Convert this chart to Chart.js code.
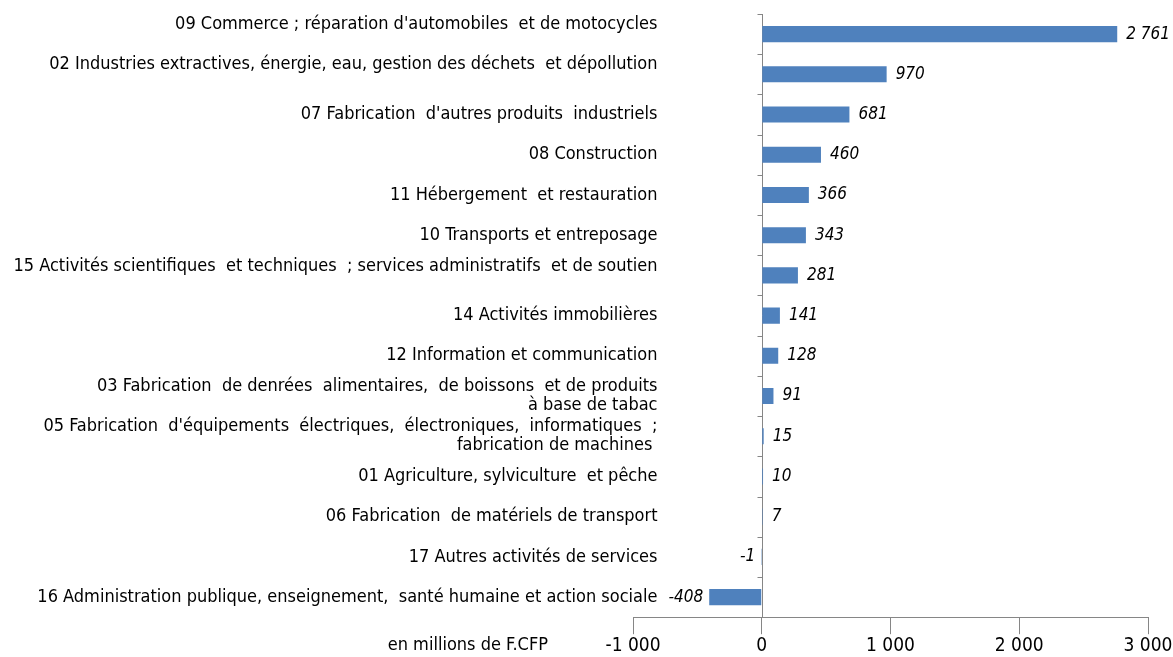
<!DOCTYPE html>
<html>
<head>
<meta charset="utf-8">
<script src="https://cdn.jsdelivr.net/npm/chart.js@4"></script>
<style>
  html, body { margin: 0; padding: 0; background: #fff; }
  #wrap { width: 1173px; height: 657px; }
</style>
</head>
<body>
<div id="wrap"><canvas id="chart1"></canvas></div>
<script>
// data
const categories = [
  ["09 Commerce ; réparation d'automobiles  et de motocycles", ""],
  ["02 Industries extractives, énergie, eau, gestion des déchets  et dépollution", ""],
  "07 Fabrication  d'autres produits  industriels",
  "08 Construction",
  "11 Hébergement  et restauration",
  "10 Transports et entreposage",
  ["15 Activités scientifiques  et techniques  ; services administratifs  et de soutien", ""],
  "14 Activités immobilières",
  "12 Information et communication",
  ["03 Fabrication  de denrées  alimentaires,  de boissons  et de produits", "à base de tabac"],
  ["05 Fabrication  d'équipements  électriques,  électroniques,  informatiques  ;", "fabrication de machines "],
  "01 Agriculture, sylviculture  et pêche",
  "06 Fabrication  de matériels de transport",
  "17 Autres activités de services",
  "16 Administration publique, enseignement,  santé humaine et action sociale"
];
const values = [2761, 970, 681, 460, 366, 343, 281, 141, 128, 91, 15, 10, 7, -1, -408];
const xTicks = [-1000, 0, 1000, 2000, 3000];
const unitLabel = "en millions de F.CFP";

const fmt = v => {
  const s = Math.abs(v).toString().replace(/\B(?=(\d{3})+(?!\d))/g, " ");
  return (v < 0 ? "-" : "") + s;
};

const labelFont = "'DejaVu Sans Condensed', 'DejaVu Sans', sans-serif";
const axisGrey = "#868686";

// zero axis with category ticks and labels, value labels, unit text
const extras = {
  id: "extras",
  beforeDatasetsDraw(chart) {
    const ctx = chart.ctx;
    const xs = chart.scales.x, ys = chart.scales.y;
    const x0 = Math.round(xs.getPixelForValue(0)) + 0.5;
    const n = categories.length;
    ctx.save();
    ctx.strokeStyle = axisGrey;
    ctx.lineWidth = 1;
    ctx.beginPath();
    ctx.moveTo(x0, ys.top);
    ctx.lineTo(x0, ys.bottom);
    for (let i = 0; i <= n; i++) {
      const y = Math.round(ys.top + i * (ys.bottom - ys.top) / n) + 0.5;
      ctx.moveTo(x0 - 5, y);
      ctx.lineTo(x0, y);
    }
    ctx.stroke();

    // category labels, right aligned left of the zero axis
    ctx.font = "18px " + labelFont;
    ctx.fillStyle = "#000";
    ctx.textAlign = "right";
    ctx.textBaseline = "middle";
    const lh = 19;
    categories.forEach((c, i) => {
      const lines = Array.isArray(c) ? c : [c];
      const yc = ys.getPixelForValue(i);
      const y1 = yc - (lines.length - 1) * lh / 2;
      lines.forEach((t, k) => ctx.fillText(t, x0 - 105, y1 + k * lh));
    });
    ctx.restore();
  },
  afterDatasetsDraw(chart) {
    const ctx = chart.ctx;
    const meta = chart.getDatasetMeta(0);
    ctx.save();
    ctx.font = "italic 17px " + labelFont;
    ctx.fillStyle = "#000";
    ctx.textBaseline = "middle";
    meta.data.forEach((bar, i) => {
      const v = values[i];
      if (v >= 0) {
        ctx.textAlign = "left";
        ctx.fillText(fmt(v), bar.x + 9, bar.y);
      } else {
        ctx.textAlign = "right";
        ctx.fillText(fmt(v), Math.min(bar.x, bar.base) - 6, bar.y);
      }
    });
    const xs = chart.scales.x;
    ctx.font = "18px " + labelFont;
    ctx.textAlign = "right";
    ctx.fillText(unitLabel, xs.getPixelForValue(-1000) - 85, 645);
    ctx.restore();
  }
};

new Chart(document.getElementById("chart1"), {
  type: "bar",
  data: {
    labels: categories,
    datasets: [{
      data: values,
      backgroundColor: "#4f81bd",
      borderWidth: 0,
      barPercentage: 0.4,
      categoryPercentage: 1
    }]
  },
  options: {
    indexAxis: "y",
    responsive: true,
    maintainAspectRatio: false,
    animation: false,
    layout: { padding: { left: 0, right: 25, top: 14, bottom: 0 } },
    plugins: { legend: { display: false }, tooltip: { enabled: false } },
    scales: {
      x: {
        min: -1000,
        max: 3000,
        afterBuildTicks: s => { s.ticks = xTicks.map(v => ({ value: v })); },
        grid: { drawOnChartArea: false, drawTicks: true, tickLength: 17, color: axisGrey },
        border: { display: true, color: axisGrey },
        ticks: {
          padding: 0,
          color: "#000",
          font: { family: labelFont, size: 19 },
          callback: v => fmt(v),
          maxRotation: 0
        }
      },
      y: {
        afterFit: s => { s.width = 633; },
        grid: { display: false },
        border: { display: false },
        ticks: { display: false }
      }
    }
  },
  plugins: [extras]
});
</script>
</body>
</html>
